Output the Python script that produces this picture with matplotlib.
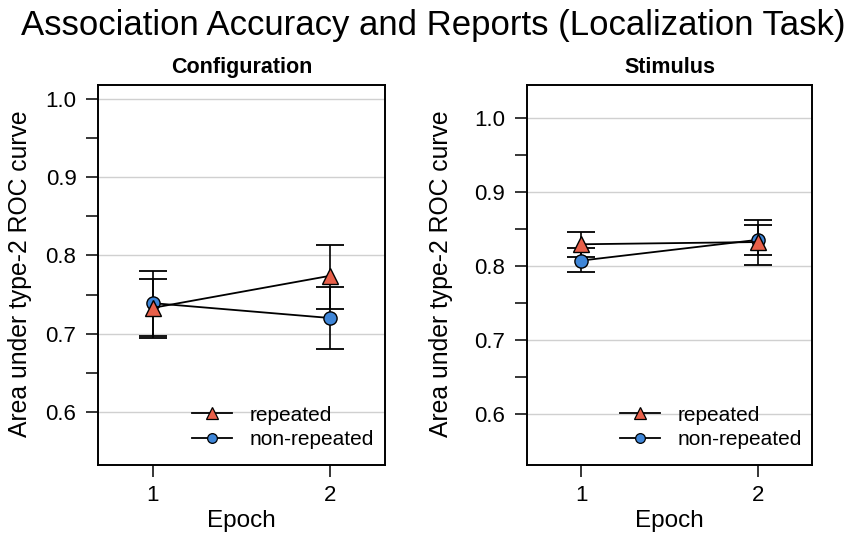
import numpy as np
import matplotlib
matplotlib.use('Agg')
import matplotlib.pyplot as plt
from matplotlib.lines import Line2D

plt.rcParams['font.family'] = ['Liberation Sans', 'DejaVu Sans']

epochs = [1, 2]

# Configuration panel
config_rep = [0.733, 0.774]
config_rep_lo = [0.697, 0.732]
config_rep_hi = [0.770, 0.813]
config_non = [0.739, 0.720]
config_non_lo = [0.695, 0.680]
config_non_hi = [0.780, 0.760]

# Stimulus panel
stim_rep = [0.829, 0.832]
stim_rep_lo = [0.812, 0.801]
stim_rep_hi = [0.846, 0.862]
stim_non = [0.807, 0.835]
stim_non_lo = [0.791, 0.814]
stim_non_hi = [0.824, 0.855]

red = '#e8604a'
blue = '#3f86d8'

fig = plt.figure(figsize=(8.53, 5.34), dpi=100)
ax1 = fig.add_axes([0.1149, 0.1292, 0.3365, 0.7116])
ax2 = fig.add_axes([0.6175, 0.1292, 0.3348, 0.7116])


def draw(ax, title, rep, rep_lo, rep_hi, non, non_lo, non_hi, ylim):
    for vals, lo, hi, mk, col, ms in [(non, non_lo, non_hi, 'o', blue, 9.5),
                                      (rep, rep_lo, rep_hi, '^', red, 11.5)]:
        vals = np.array(vals)
        err = [vals - np.array(lo), np.array(hi) - vals]
        ax.errorbar(epochs, vals, yerr=err, fmt='none', ecolor='black',
                    elinewidth=1.2, capsize=10, capthick=1.3, zorder=2)
        ax.plot(epochs, vals, color='black', lw=1.3, marker=mk, ms=ms,
                markerfacecolor=col, markeredgecolor='black', markeredgewidth=1.0,
                zorder=3)
    ax.set_xlim(0.69, 2.31)
    ax.set_ylim(*ylim)
    ax.set_xticks(epochs)
    ax.set_xticklabels(['1', '2'])
    ax.set_yticks([0.6, 0.7, 0.8, 0.9, 1.0])
    ax.set_yticklabels(['0.6', '0.7', '0.8', '0.9', '1.0'])
    ax.set_yticks([0.65, 0.75, 0.85, 0.95], minor=True)
    ax.tick_params(axis='both', which='both', direction='out', length=8.5,
                   width=1.1, labelsize=16)
    ax.tick_params(axis='y', pad=7)
    ax.tick_params(axis='x', pad=6)
    ax.grid(axis='y', which='major', color='#d0d0d0', lw=1.0, zorder=0)
    ax.set_axisbelow(True)
    for s in ax.spines.values():
        s.set_linewidth(1.4)
    ax.set_title(title, fontsize=15.5, fontweight='bold', pad=9)
    ax.set_xlabel('Epoch', fontsize=17.5)
    ax.xaxis.set_label_coords(0.5, -0.118)
    ax.set_ylabel('Area under type-2 ROC curve', fontsize=17.8)
    handles = [Line2D([], [], color='black', lw=1.3, marker='^', ms=8.5,
                      markerfacecolor=red, markeredgecolor='black', markeredgewidth=0.9),
               Line2D([], [], color='black', lw=1.3, marker='o', ms=7,
                      markerfacecolor=blue, markeredgecolor='black', markeredgewidth=0.9)]
    ax.legend(handles, ['repeated', 'non-repeated'], loc='center left',
              bbox_to_anchor=(0.328, 0.099), frameon=False, fontsize=15,
              borderpad=0, borderaxespad=0, handlelength=1.9,
              handletextpad=0.85, labelspacing=0.25)


draw(ax1, 'Configuration', config_rep, config_rep_lo, config_rep_hi,
     config_non, config_non_lo, config_non_hi, (0.532, 1.018))
ax1.yaxis.set_label_coords(-0.23, 0.503)
draw(ax2, 'Stimulus', stim_rep, stim_rep_lo, stim_rep_hi,
     stim_non, stim_non_lo, stim_non_hi, (0.531, 1.044))
ax2.yaxis.set_label_coords(-0.258, 0.503)

fig.text(0.5076, 0.9345, 'Association Accuracy and Reports (Localization Task)',
         ha='center', va='baseline', fontsize=25)

fig.savefig('out.png', dpi=100)
